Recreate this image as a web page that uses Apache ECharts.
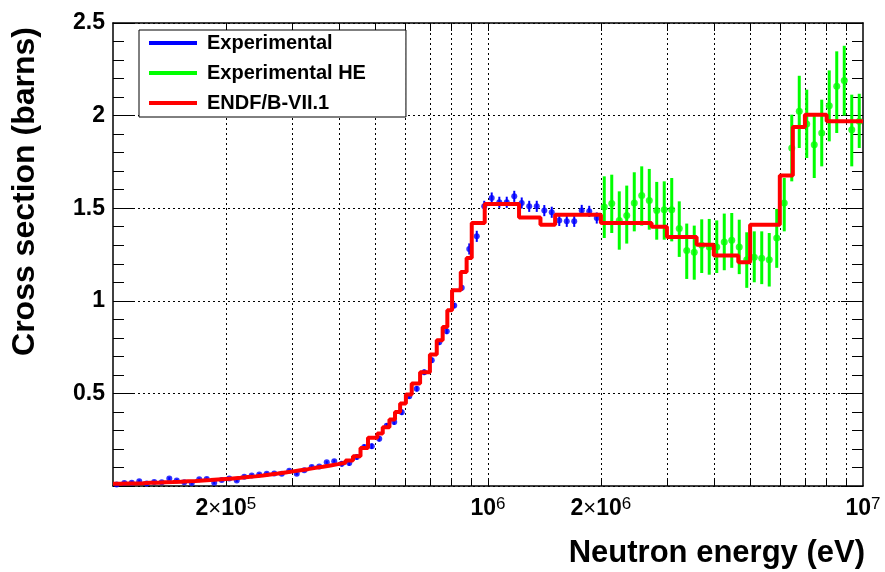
<!DOCTYPE html>
<html><head><meta charset="utf-8">
<script src="https://cdn.jsdelivr.net/npm/echarts@6/dist/echarts.min.js"></script>
<style>html,body{margin:0;padding:0;background:#fff;}#c{width:885px;height:572px;}</style>
</head><body><div id="c"></div>
<script>
// ---- data ----
const expEnergy = [1.023e5,1.072e5,1.122e5,1.175e5,1.230e5,1.288e5,1.349e5,1.413e5,1.479e5,1.549e5,1.622e5,1.698e5,1.778e5,1.862e5,1.950e5,2.042e5,2.138e5,2.239e5,2.344e5,2.455e5,2.570e5,2.692e5,2.818e5,2.951e5,3.090e5,3.236e5,3.388e5,3.548e5,3.715e5,3.890e5,4.074e5,4.266e5,4.467e5,4.677e5,4.898e5,5.129e5,5.370e5,5.623e5,5.888e5,6.166e5,6.457e5,6.761e5,7.079e5,7.413e5,7.762e5,8.128e5,8.511e5,8.913e5,9.333e5,9.772e5,1.023e6,1.072e6,1.122e6,1.175e6,1.230e6,1.288e6,1.349e6,1.413e6,1.479e6,1.549e6,1.622e6,1.698e6,1.778e6,1.862e6,1.950e6];
const expXS = [0.008,0.016,0.018,0.026,0.014,0.022,0.020,0.040,0.030,0.020,0.016,0.036,0.038,0.018,0.033,0.040,0.030,0.050,0.057,0.062,0.066,0.068,0.066,0.082,0.066,0.085,0.103,0.105,0.128,0.134,0.120,0.124,0.157,0.210,0.215,0.255,0.325,0.345,0.398,0.485,0.525,0.614,0.679,0.776,0.835,0.974,1.070,1.280,1.348,1.510,1.555,1.532,1.532,1.564,1.528,1.510,1.510,1.487,1.478,1.434,1.429,1.429,1.488,1.483,1.447];
const expErr = [0.008,0.008,0.008,0.008,0.008,0.008,0.008,0.008,0.008,0.008,0.008,0.008,0.008,0.008,0.008,0.008,0.008,0.008,0.008,0.008,0.008,0.008,0.008,0.008,0.008,0.008,0.008,0.008,0.008,0.008,0.015,0.015,0.015,0.015,0.015,0.015,0.015,0.015,0.015,0.015,0.015,0.015,0.015,0.015,0.015,0.015,0.015,0.03,0.03,0.03,0.03,0.03,0.03,0.03,0.03,0.03,0.03,0.03,0.03,0.03,0.03,0.03,0.03,0.03,0.03];

const heEnergy = [2.042e6,2.138e6,2.239e6,2.344e6,2.455e6,2.570e6,2.692e6,2.818e6,2.951e6,3.090e6,3.236e6,3.388e6,3.548e6,3.715e6,3.890e6,4.074e6,4.266e6,4.467e6,4.677e6,4.898e6,5.129e6,5.370e6,5.623e6,5.888e6,6.166e6,6.457e6,6.761e6,7.079e6,7.413e6,7.762e6,8.128e6,8.511e6,8.913e6,9.333e6,9.772e6];
const heXS   = [1.507,1.525,1.433,1.461,1.528,1.568,1.542,1.487,1.492,1.492,1.390,1.271,1.262,1.300,1.291,1.291,1.318,1.327,1.291,1.222,1.235,1.230,1.222,1.339,1.528,1.825,2.023,1.955,1.843,1.906,2.053,2.158,2.190,1.924,1.969];
const heLow  = [1.339,1.366,1.276,1.309,1.375,1.406,1.384,1.330,1.330,1.321,1.237,1.118,1.114,1.150,1.141,1.150,1.165,1.178,1.144,1.070,1.100,1.090,1.077,1.178,1.375,1.645,1.825,1.771,1.663,1.726,1.861,1.906,2.000,1.726,1.825];
const heHigh = [1.672,1.681,1.591,1.622,1.694,1.726,1.712,1.642,1.645,1.663,1.537,1.417,1.406,1.440,1.442,1.434,1.471,1.474,1.438,1.370,1.375,1.375,1.366,1.496,1.663,2.005,2.215,2.140,2.005,2.086,2.244,2.347,2.377,2.113,2.118];

const endfEdges = [1.000e5,1.047e5,1.096e5,1.148e5,1.202e5,1.259e5,1.318e5,1.380e5,1.445e5,1.514e5,1.585e5,1.660e5,1.738e5,1.820e5,1.905e5,1.995e5,2.089e5,2.188e5,2.291e5,2.399e5,2.512e5,2.630e5,2.754e5,2.884e5,3.020e5,3.162e5,3.311e5,3.467e5,3.631e5,3.802e5,3.981e5,4.169e5,4.365e5,4.571e5,4.786e5,
  5.07e5,5.24e5,5.46e5,5.65e5,5.83e5,6.04e5,6.26e5,6.59e5,7.00e5,7.30e5,7.57e5,7.79e5,8.02e5,8.46e5,8.77e5,9.05e5,9.80e5,1.21e6,1.38e6,1.51e6,2.00e6,2.73e6,3.00e6,3.60e6,4.00e6,4.65e6,5.00e6,6.00e6,6.50e6,7.00e6,8.00e6,1.0e7];
const endfXS = [0.012,0.013,0.014,0.015,0.017,0.018,0.020,0.021,0.023,0.025,0.027,0.030,0.032,0.035,0.038,0.041,0.044,0.048,0.052,0.057,0.062,0.067,0.073,0.079,0.085,0.091,0.098,0.104,0.111,0.118,0.126,0.138,0.160,0.205,0.260,
  0.283,0.317,0.359,0.400,0.445,0.494,0.553,0.614,0.710,0.787,0.859,0.949,1.057,1.156,1.231,1.420,1.523,1.450,1.410,1.465,1.420,1.400,1.345,1.303,1.244,1.208,1.411,1.676,1.938,2.005,1.969];

const xTickValues = [2e5,3e5,4e5,5e5,6e5,7e5,8e5,9e5,1e6,2e6,3e6,4e6,5e6,6e6,7e6,8e6,9e6];
const xLabelValues = [2e5,1e6,2e6,1e7];
const xLabelTexts = ['{b|2}{m|×}{b|10}{s|5}','{b|10}{s|6}','{b|2}{m|×}{b|10}{s|6}','{b|10}{s|7}'];
const seriesNames = ['Experimental','Experimental HE','ENDF/B-VII.1'];
const xTitle = 'Neutron energy (eV)';
const yTitle = 'Cross section (barns)';

// ---- chart ----
const FONT = '"Liberation Sans", Arial, Helvetica, sans-serif';
const chart = echarts.init(document.getElementById('c'), null, {renderer:'canvas'});
const gridLine = {show:true, lineStyle:{color:'#000', width:1, type:[2,3]}};

function errSeries(name, xs, lo, hi, color, width, z){
  return {
    name, type:'custom', z, silent:true,
    data: xs.map((x,i)=>[x, lo[i], hi[i]]),
    encode:{x:0, y:[1,2]},
    renderItem:(params, api)=>{
      const a = api.coord([api.value(0), api.value(1)]);
      const b = api.coord([api.value(0), api.value(2)]);
      return {type:'line', shape:{x1:a[0],y1:a[1],x2:b[0],y2:b[1]}, style:{stroke:color, lineWidth:width}};
    }
  };
}

const xBase = {type:'log', logBase:10, min:1e5, max:1e7,
  axisLine:{show:true, onZero:false, lineStyle:{color:'#000', width:1.5}},
  axisTick:{show:true, inside:true, length:8, customValues:xTickValues, lineStyle:{color:'#000', width:1}},
  minorTick:{show:false}};

const option = {
  animation:false,
  backgroundColor:'#fff',
  grid:{left:113, right:22, top:23, bottom:86, containLabel:false},
  xAxis:[
    Object.assign({}, xBase, {position:'bottom',
      splitLine:gridLine,
      axisLabel:{show:true, customValues:xLabelValues, margin:10,
        formatter:(v)=>{ const i = xLabelValues.findIndex(t=>Math.abs(t-v)/t<1e-3); return i>=0?xLabelTexts[i]:''; },
        rich:{
          b:{fontFamily:FONT, fontWeight:'bold', fontSize:23, lineHeight:26, color:'#000'},
          m:{fontFamily:FONT, fontWeight:'normal', fontSize:22, lineHeight:26, color:'#000'},
          s:{fontFamily:FONT, fontWeight:'normal', fontSize:17, lineHeight:17, verticalAlign:'top', color:'#000'}
        }}}),
    Object.assign({}, xBase, {position:'top', splitLine:{show:false}, axisLabel:{show:false}})
  ],
  yAxis:[
    {type:'value', min:0, max:2.5, interval:0.5, position:'left',
     axisLine:{show:true, onZero:false, lineStyle:{color:'#000', width:1.5}},
     axisTick:{show:true, inside:true, length:22, lineStyle:{color:'#000'}},
     minorTick:{show:true, splitNumber:5, length:11, lineStyle:{color:'#000'}},
     splitLine:gridLine,
     axisLabel:{margin:8, fontFamily:FONT, fontWeight:'bold', fontSize:23, color:'#000',
       formatter:(v)=> v===0 ? '' : String(v)}},
    {type:'value', min:0, max:2.5, interval:0.5, position:'right',
     axisLine:{show:true, onZero:false, lineStyle:{color:'#000', width:1.5}},
     axisTick:{show:true, inside:true, length:22, lineStyle:{color:'#000'}},
     minorTick:{show:true, splitNumber:5, length:11, lineStyle:{color:'#000'}},
     splitLine:{show:false}, axisLabel:{show:false}}
  ],
  legend:{
    left:139, top:30, orient:'vertical', selectedMode:false,
    data:[
      {name:seriesNames[0], icon:'rect', itemStyle:{color:'#0000ff'}},
      {name:seriesNames[1], icon:'rect', itemStyle:{color:'#00ff00'}},
      {name:seriesNames[2], icon:'rect', itemStyle:{color:'#ff0000'}}
    ],
    itemWidth:48, itemHeight:4, itemGap:10,
    backgroundColor:'#fff', borderColor:'#000', borderWidth:1,
    padding:[3,40,4,10],
    textStyle:{fontFamily:FONT, fontWeight:'bold', fontSize:20, color:'#000', padding:[0,0,0,5]}
  },
  series:[
    errSeries(seriesNames[0], expEnergy, expXS.map((v,i)=>v-expErr[i]), expXS.map((v,i)=>v+expErr[i]), '#0000ff', 2, 2),
    {name:seriesNames[0], type:'scatter', z:3, symbol:'circle', symbolSize:6, itemStyle:{color:'#0000ff'},
     data:expEnergy.map((x,i)=>[x, expXS[i]])},
    errSeries(seriesNames[1], heEnergy, heLow, heHigh, '#00ff00', 3, 4),
    {name:seriesNames[1], type:'scatter', z:5, symbol:'circle', symbolSize:7, itemStyle:{color:'#00ff00'},
     data:heEnergy.map((x,i)=>[x, heXS[i]])},
    {name:seriesNames[2], type:'line', z:6, step:'end', showSymbol:false, symbol:'none',
     lineStyle:{color:'#ff0000', width:4}, itemStyle:{color:'#ff0000'},
     data:endfEdges.map((e,i)=>[e, endfXS[Math.min(i, endfXS.length-1)]])}
  ],
  graphic:[
    {type:'text', x:865, y:553, silent:true,
     style:{text:xTitle, font:'bold 31px ' + FONT, fill:'#000', align:'right', verticalAlign:'middle'}},
    {type:'text', x:25, y:27, rotation:Math.PI/2, silent:true,
     style:{text:yTitle, font:'bold 32px ' + FONT, fill:'#000', align:'right', verticalAlign:'middle'}}
  ]
};
chart.setOption(option);
</script>
</body></html>
